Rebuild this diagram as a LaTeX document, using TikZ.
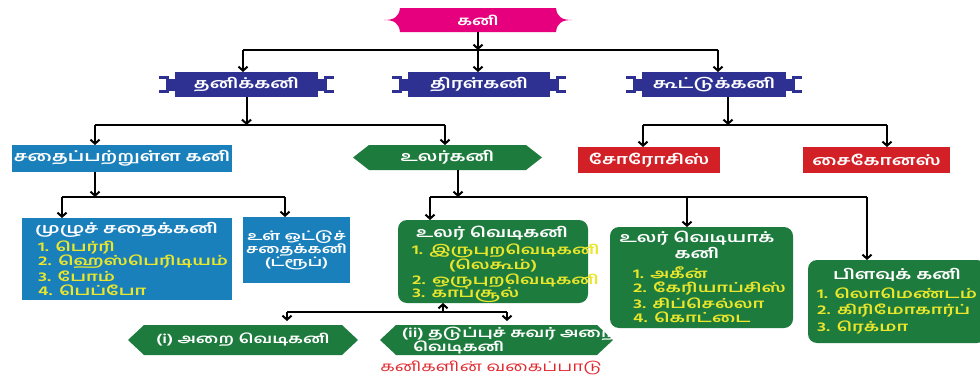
\documentclass[tikz,border=0pt]{standalone}
\usepackage{fontspec}
\newfontfamily\tm[Script=Tamil,FakeStretch=1.4]{Hind Madurai}
\newfontfamily\tmi[Script=Tamil,FakeStretch=1.45]{Hind Madurai}
\usetikzlibrary{arrows.meta,calc,backgrounds}
\definecolor{pinkc}{HTML}{E6007E}
\definecolor{navyc}{HTML}{2E3192}
\definecolor{bluec}{HTML}{1A80BC}
\definecolor{greenc}{HTML}{1E7B3E}
\definecolor{redc}{HTML}{D32027}
\definecolor{yelc}{HTML}{EAE62C}
\definecolor{capc}{HTML}{E0282E}
\tikzset{
 conn/.style={line width=2pt,draw=black},
 arr/.style={conn,-{Straight Barb[length=4pt,width=9pt]}},
 tfont/.style={font=\tm\bfseries\fontsize{14}{15}\selectfont},
 sfont/.style={font=\tm\bfseries\fontsize{13}{14}\selectfont},
 ofont/.style={font=\tm\bfseries\fontsize{12.3}{13.5}\selectfont},
 ifont/.style={font=\tmi\bfseries\fontsize{13}{14}\selectfont},
 boxn/.style={inner sep=0pt,outer sep=0pt,text=white,tfont},
 title/.style={inner sep=0pt,text=white,tfont},
 item/.style={inner sep=0pt,anchor=west,text=yelc,ifont},
}
\begin{document}
\begin{tikzpicture}[x=1pt,y=-1pt]
\useasboundingbox (0,0) rectangle (980,380);

% level 0
\node[boxn,sfont,minimum width=156,minimum height=24] (kani) at (478,20) {கனி};
% level 1
\node[boxn,fill=navyc,minimum width=143,minimum height=25] (tanik) at (246.5,84.5) {தனிக்கனி};
\node[boxn,fill=navyc,minimum width=142,minimum height=25] (tiral) at (479,84.5) {திரள்கனி};
\node[boxn,fill=navyc,minimum width=144,minimum height=25] (kuttu) at (714,84.5) {கூட்டுக்கனி};
% level 2
\node[boxn,fill=bluec,minimum width=220,minimum height=27] (sathai) at (122,158.5) {சதைப்பற்றுள்ள கனி};
\node[boxn,minimum width=189,minimum height=25] (ular) at (447.5,157.5) {உலர்கனி};
\node[boxn,fill=redc,minimum width=142,minimum height=26] (soro) at (649,160) {சோரோசிஸ்};
\node[boxn,fill=redc,minimum width=147,minimum height=26] (saiko) at (876.5,160) {சைகோனஸ்};
% level 3 boxes
\node[boxn,fill=bluec,minimum width=210,minimum height=82] (muzhu) at (127,259) {};
\node[boxn,ofont,fill=bluec,minimum width=107,minimum height=66,align=center] (ottu) at (296.5,250)
  {உள் ஒட்டுச்\\[-0.5pt]சதைக்கனி\\[-0.5pt](ட்ரூப்)};
\node[boxn,fill=greenc,rounded corners=9pt,minimum width=190,minimum height=83] (vedi) at (493,261.5) {};
\node[boxn,fill=greenc,rounded corners=9pt,minimum width=183,minimum height=101] (vediya) at (701.5,277.5) {};
\node[boxn,fill=greenc,rounded corners=9pt,minimum width=178,minimum height=83] (pilavu) at (897,301.5) {};
% level 4
\node[boxn,sfont,minimum width=230,minimum height=30] (arai) at (243,340) {(i) அறை வெடிகனி};
\node[boxn,minimum width=233,minimum height=30] (thadu) at (496.5,340) {};
\node[inner sep=0pt,text=capc,font=\tm\fontsize{13.5}{14}\selectfont] (cap) at (491,368) {கனிகளின் வகைப்பாடு};

% texts in boxes
\node[title,anchor=west] (muzhu-t) at (35,230) {முழுச் சதைக்கனி};
\node[item] (muzhu-1) at (38,247) {1. பெர்ரி};
\node[item] (muzhu-2) at (38,262) {2. ஹெஸ்பெரிடியம்};
\node[item] (muzhu-3) at (38,276) {3. போம்};
\node[item] (muzhu-4) at (38,290) {4. பெப்போ};

\node[title] (vedi-t) at (492,233) {உலர் வெடிகனி};
\node[item] (vedi-1) at (412,251) {1. இருபுறவெடிகனி};
\node[item,anchor=center] (vedi-1b) at (493,265) {(லெகூம்)};
\node[item] (vedi-2) at (412,281) {2. ஒருபுறவெடிகனி};
\node[item] (vedi-3) at (412,295) {3. காப்சூல்};

\node[title] (vediya-t1) at (697,238) {உலர் வெடியாக்};
\node[title] (vediya-t2) at (697,253) {கனி};
\node[item] (vediya-1) at (633,273) {1. அகீன்};
\node[item] (vediya-2) at (633,288) {2. கேரியாப்சிஸ்};
\node[item] (vediya-3) at (633,303) {3. சிப்செல்லா};
\node[item] (vediya-4) at (633,317) {4. கொட்டை};

\node[title] (pilavu-t) at (897,275) {பிளவுக் கனி};
\node[item] (pilavu-1) at (817,293) {1. லொமெண்டம்};
\node[item] (pilavu-2) at (817,310) {2. கிரிமோகார்ப்};
\node[item] (pilavu-3) at (817,327) {3. ரெக்மா};

\node[title,sfont,anchor=west] (thadu-1) at (402,334) {(ii) தடுப்புச் சுவர் அறை};
\node[title,sfont,anchor=west] (thadu-2) at (413,347.5) {வெடிகனி};

% background shapes
\begin{scope}[on background layer]
 % banner
 \fill[pinkc] (kani.north west) -- (kani.north east)
   .. controls ($(kani.north east)+(1,9)$) and ($(kani.east)+(6,0)$) .. ($(kani.east)+(16,0)$)
   .. controls ($(kani.east)+(6,0)$) and ($(kani.south east)+(1,-9)$) .. (kani.south east)
   -- (kani.south west)
   .. controls ($(kani.south west)+(-1,-9)$) and ($(kani.west)+(-6,0)$) .. ($(kani.west)+(-16,0)$)
   .. controls ($(kani.west)+(-6,0)$) and ($(kani.north west)+(-1,9)$) .. (kani.north west) -- cycle;
 % navy decorations
 \foreach \n in {tanik,tiral,kuttu}{
   \fill[navyc] ($(\n.west)+(-6,-6)$) rectangle ($(\n.west)+(0,6)$);
   \fill[navyc] ($(\n.west)+(-9,-8.5)$) rectangle ($(\n.west)+(-6,8.5)$);
   \fill[navyc] ($(\n.west)+(-16,-8.5)$) rectangle ($(\n.west)+(-6,-5.5)$);
   \fill[navyc] ($(\n.west)+(-16,5.5)$) rectangle ($(\n.west)+(-6,8.5)$);
   \fill[navyc] ($(\n.east)+(0,-6)$) rectangle ($(\n.east)+(6,6)$);
   \fill[navyc] ($(\n.east)+(6,-8.5)$) rectangle ($(\n.east)+(9,8.5)$);
   \fill[navyc] ($(\n.east)+(6,-8.5)$) rectangle ($(\n.east)+(16,-5.5)$);
   \fill[navyc] ($(\n.east)+(6,5.5)$) rectangle ($(\n.east)+(16,8.5)$);
 }
 % hexagons
 \foreach \n/\d in {ular/16,arai/16,thadu/16}{
   \fill[greenc] (\n.west) -- ($(\n.north west)+(\d,0)$) -- ($(\n.north east)+(-\d,0)$)
     -- (\n.east) -- ($(\n.south east)+(-\d,0)$) -- ($(\n.south west)+(\d,0)$) -- cycle;
 }
\end{scope}

% connectors
\coordinate (kb1) at (243,50);
\coordinate (kb2) at (718,50);
\draw[conn] (kb1) -- (kb2);
\draw[arr] (kani.south) -- (kani.south |- kb1);
\draw[arr] (kani.south |- kb1) -- (tiral.north -| kani.south);
\draw[arr] (kb1) -- (kb1 |- tanik.north);
\draw[arr] (kb2) -- (kb2 |- kuttu.north);

\coordinate (tb1) at (95,125);
\coordinate (tb2) at (445,125);
\draw[conn] (tb1) -- (tb2);
\draw[arr] (tanik.south) -- (tanik.south |- tb1);
\draw[arr] (tb1) -- (tb1 |- sathai.north);
\draw[arr] (tb2) -- (tb2 |- ular.north);

\coordinate (cb1) at (643,125);
\coordinate (cb2) at (887,125);
\draw[conn] (cb1) -- (cb2);
\draw[arr] ([xshift=14pt]kuttu.south) -- ([xshift=14pt]kuttu.south |- cb1);
\draw[arr] (cb1) -- (cb1 |- soro.north);
\draw[arr] (cb2) -- (cb2 |- saiko.north);

\coordinate (sb1) at (62,197);
\coordinate (sb2) at (285,197);
\draw[conn] (sb1) -- (sb2);
\draw[arr] ([xshift=-27pt]sathai.south) -- ([xshift=-27pt]sathai.south |- sb1);
\draw[arr] (sb1) -- (sb1 |- muzhu.north);
\draw[arr] (sb2) -- (sb2 |- ottu.north);

\coordinate (ub1) at (430,197);
\coordinate (ub3) at (687,197);
\coordinate (ub2) at (867,197);
\draw[conn] (ub1) -- (ub2);
\draw[arr] ([xshift=10.5pt]ular.south) -- ([xshift=10.5pt]ular.south |- ub1);
\draw[arr] (ub1) -- (ub1 |- vedi.north);
\draw[arr] (ub3) -- (ub3 |- vediya.north);
\draw[arr] (ub2) -- (ub2 |- pilavu.north);

\coordinate (vb1) at (287,312);
\coordinate (vb2) at (507,312);
\draw[conn] (vb1) -- (vb2);
\draw[arr] ([xshift=-50pt]vedi.south |- vb1) -- ([xshift=-50pt]vedi.south);
\draw[arr] (vb1) -- ($(vb1 |- arai.north)+(0,-4)$);
\draw[arr] (vb2) -- ($(vb2 |- thadu.north)+(0,-4)$);
\end{tikzpicture}
\end{document}
